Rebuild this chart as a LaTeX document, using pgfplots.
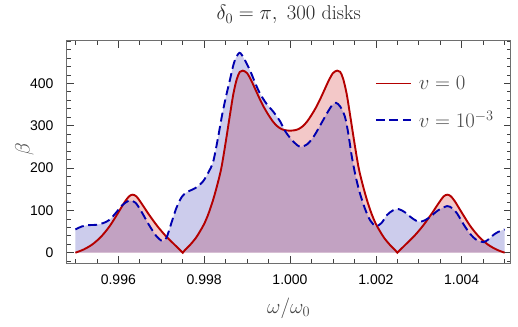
\documentclass[border=0pt]{standalone}
\usepackage{fontspec}
\newfontfamily\tickfont{Liberation Sans}
\usepackage{pgfplots}
\usepackage{pgfplotstable}
\pgfplotsset{compat=1.18}

\definecolor{linered}{RGB}{180,0,0}
\definecolor{lineblue}{RGB}{0,0,175}
\definecolor{fillred}{RGB}{207,35,35}
\definecolor{fillblue}{RGB}{51,51,179}
\definecolor{framegray}{RGB}{110,110,110}
\definecolor{textgray}{RGB}{70,70,70}

% v = 0
\pgfplotstableread{
x y
0.99500 0
0.99520 8
0.99540 20
0.99560 38
0.99580 63
0.99600 95
0.99615 120
0.99625 133
0.99633 137
0.99642 133
0.99655 115
0.99670 92
0.99690 64
0.99710 40
0.99730 20
0.99746 4
0.99750 0
0.99754 5
0.99765 16
0.99780 34
0.99790 50
0.99800 68
0.99810 92
0.99820 122
0.99830 158
0.99840 200
0.99850 260
0.99860 325
0.99868 375
0.99876 410
0.99883 427
0.99890 430
0.99900 424
0.99910 406
0.99920 384
0.99930 362
0.99940 342
0.99950 325
0.99960 310
0.99970 299
0.99980 292
0.99990 289
1.00000 288
1.00010 289
1.00020 292
1.00030 299
1.00040 310
1.00050 325
1.00060 342
1.00070 362
1.00080 384
1.00090 406
1.00100 424
1.00110 430
1.00117 427
1.00124 410
1.00132 375
1.00140 325
1.00150 260
1.00160 200
1.00170 158
1.00180 122
1.00190 92
1.00200 68
1.00210 50
1.00220 34
1.00235 16
1.00246 5
1.00250 0
1.00254 4
1.00270 20
1.00290 40
1.00310 64
1.00330 92
1.00345 115
1.00358 133
1.00367 137
1.00375 133
1.00385 120
1.00400 95
1.00420 63
1.00440 38
1.00460 20
1.00480 8
1.00500 0
}\datared

% v = 1e-3
\pgfplotstableread{
x y
0.99500 55
0.99515 62
0.99530 65
0.99550 66
0.99565 70
0.99580 78
0.99595 95
0.99610 113
0.99626 123
0.99640 118
0.99655 95
0.99670 68
0.99688 40
0.99702 28
0.99712 35
0.99722 65
0.99735 105
0.99748 132
0.99760 143
0.99780 153
0.99797 168
0.99810 190
0.99821 215
0.99832 270
0.99841 321
0.99850 365
0.99860 408
0.99870 450
0.99882 472
0.99893 458
0.99907 430
0.99920 398
0.99930 376
0.99945 352
0.99961 333
0.99977 310
0.99990 285
1.00008 262
1.00024 250
1.00040 256
1.00055 274
1.00070 300
1.00086 329
1.00098 348
1.00107 354
1.00117 345
1.00128 321
1.00136 280
1.00144 227
1.00153 180
1.00163 140
1.00175 103
1.00187 76
1.00200 63
1.00213 70
1.00226 89
1.00240 100
1.00253 103
1.00267 96
1.00280 85
1.00293 76
1.00303 73
1.00315 77
1.00327 85
1.00345 100
1.00366 110
1.00378 105
1.00389 93
1.00405 66
1.00420 44
1.00435 30
1.00451 25
1.00463 32
1.00474 42
1.00485 49
1.00500 55
}\datablue

\begin{document}
\begin{tikzpicture}
\begin{axis}[
  scale only axis, width=444pt, height=222.3pt,
  xmin=0.994797, xmax=1.005142, ymin=-24.3, ymax=500.6,
  axis line style={framegray, line width=0.8pt},
  xtick={0.996,0.998,1.0,1.002,1.004},
  xticklabels={0.996,0.998,1.000,1.002,1.004},
  minor xtick={0.9950,0.9955,0.9965,0.9970,0.9975,0.9985,0.9990,0.9995,1.0005,1.0010,1.0015,1.0025,1.0030,1.0035,1.0045,1.0050},
  ytick={0,100,200,300,400},
  yticklabels={0,100,200,300,400},
  minor ytick={-20,20,40,60,80,120,140,160,180,220,240,260,280,320,340,360,380,420,440,460,480,500},
  tick align=inside,
  major tick length=7pt, minor tick length=4pt,
  every tick/.style={black!75, line width=0.6pt},
  ticklabel style={font=\fontsize{14}{16}\selectfont\tickfont},
  xticklabel style={yshift=-8pt},
  yticklabel style={xshift=-9.7pt},
  xlabel={$\omega/\omega_0$},
  xlabel style={font=\fontsize{20}{24}\selectfont, text=textgray, at={(axis description cs:0.5,0)}, anchor=base, yshift=-50pt},
  ylabel={$\beta$},
  ylabel style={font=\fontsize{20}{24}\selectfont, text=textgray, at={(axis description cs:-0.095,0.51)}, anchor=center},
  title={$\delta_0=\pi,\ 300$ disks},
  title style={font=\fontsize{20}{24}\selectfont, text=black!85, at={(axis description cs:0.5,1)}, anchor=base, yshift=14.7pt},
  legend style={draw=none, fill=none, at={(0.687,0.86)}, anchor=north west,
    font=\fontsize{19.5}{22}\selectfont\color{textgray}, row sep=16pt},
  legend cell align=left,
  legend image code/.code={\draw (0pt,0pt) -- (35pt,0pt);},
]
\addplot[draw=none, fill=fillred, fill opacity=0.25, smooth, tension=0.5, forget plot] table[x=x,y=y] {\datared} \closedcycle;
\addplot[draw=none, fill=fillblue, fill opacity=0.25, smooth, tension=0.5, forget plot] table[x=x,y=y] {\datablue} \closedcycle;
\addplot[draw=linered, line width=1.9pt, smooth, tension=0.5] table[x=x,y=y] {\datared};
\addplot[draw=lineblue, line width=1.9pt, dash pattern=on 9pt off 4.5pt, smooth, tension=0.5] table[x=x,y=y] {\datablue};
\legend{\hspace{5pt}$v=0$, \hspace{5pt}$v=10^{-3}$}
\end{axis}
\pgfresetboundingbox
\path[use as bounding box] ([xshift=-66.7pt,yshift=-63pt]current axis.south west) rectangle ([xshift=7.3pt,yshift=40.7pt]current axis.north east);
\end{tikzpicture}
\end{document}
